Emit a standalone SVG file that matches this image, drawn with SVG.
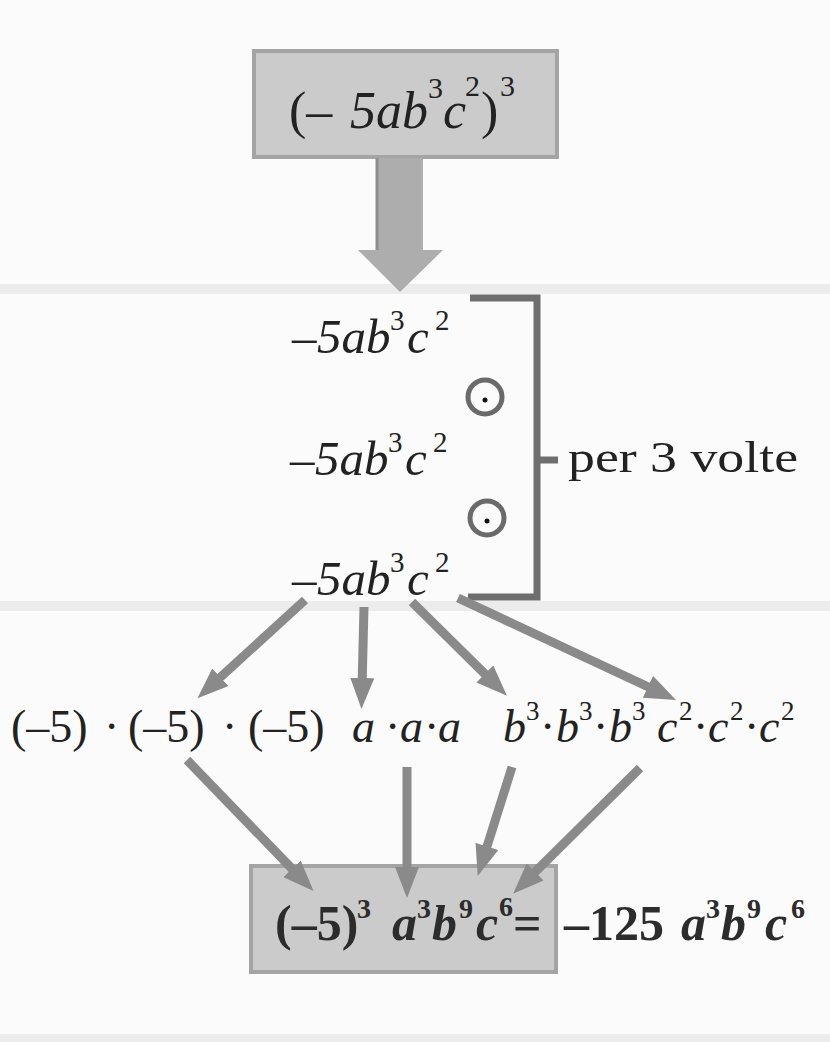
<svg xmlns="http://www.w3.org/2000/svg" width="830" height="1042" viewBox="0 0 830 1042">
<style>
.t{font-family:"Liberation Serif","Times New Roman",serif;fill:#222}
.i{font-style:italic}
.b{font-weight:bold;fill:#2c2c2c}
.box{fill:#cbcbcb;stroke:#a4a4a4;stroke-width:4}
.arr{stroke:#8a8a8a;stroke-width:9;fill:none;marker-end:url(#ah)}
.br{stroke:#6e6e6e;stroke-width:7;fill:none}
.band{fill:#ececec}
</style>
<defs>
<marker id="ah" markerUnits="userSpaceOnUse" markerWidth="32" markerHeight="24" refX="10" refY="12" orient="auto" viewBox="0 0 32 24">
<path d="M0,0 L31,12 L0,24 Z" fill="#8a8a8a"/>
</marker>
</defs>
<rect width="830" height="1042" fill="#fbfbfb"/>
<rect class="band" x="0" y="284" width="830" height="10"/>
<rect class="band" x="0" y="601" width="830" height="10"/>
<rect class="band" x="0" y="1034" width="830" height="8"/>

<g id="top">
<rect class="box" x="254" y="51" width="303" height="106"/>
<text class="t" y="128" font-size="52"><tspan x="289">(–</tspan><tspan x="350" class="i">5ab</tspan><tspan x="428" dy="-30" font-size="30">3</tspan><tspan x="443" dy="30" class="i">c</tspan><tspan x="465" dy="-32" font-size="30">2</tspan><tspan x="481" dy="32">)</tspan><tspan x="500" dy="-32" font-size="30">3</tspan></text>
</g>

<g id="bigarrow">
<path d="M377,158 L423,158 L423,250 L443,250 L400,292 L358,250 L377,250 Z" fill="#adadad"/>
<path d="M377,158 L377,250" stroke="#8d8d8d" stroke-width="3"/>
</g>

<g id="factor1">
<text class="t" y="353" font-size="49"><tspan x="292">–</tspan><tspan x="317" class="i">5ab</tspan><tspan x="390" dy="-23" font-size="29">3</tspan><tspan x="407" dy="23" class="i">c</tspan><tspan x="435" dy="-23" font-size="29">2</tspan></text>
</g>
<g id="dot1">
<circle cx="485" cy="397" r="17" fill="none" stroke="#6a6a6a" stroke-width="5"/>
<circle cx="485" cy="400" r="2.5" fill="#111"/>
</g>
<g id="factor2">
<text class="t" y="475" font-size="49"><tspan x="290">–</tspan><tspan x="315" class="i">5ab</tspan><tspan x="388" dy="-23" font-size="29">3</tspan><tspan x="405" dy="23" class="i">c</tspan><tspan x="433" dy="-23" font-size="29">2</tspan></text>
</g>
<g id="dot2">
<circle cx="487" cy="518" r="17" fill="none" stroke="#6a6a6a" stroke-width="5"/>
<circle cx="487" cy="521" r="2.5" fill="#111"/>
</g>
<g id="factor3">
<text class="t" y="595" font-size="49"><tspan x="292">–</tspan><tspan x="317" class="i">5ab</tspan><tspan x="390" dy="-23" font-size="29">3</tspan><tspan x="407" dy="23" class="i">c</tspan><tspan x="435" dy="-23" font-size="29">2</tspan></text>
</g>

<g id="bracket">
<path class="br" d="M470,298 L537,298 L537,597 L468,597"/>
<path class="br" d="M537,460 L558,460"/>
<text class="t" x="568" y="472" font-size="45" textLength="230" lengthAdjust="spacingAndGlyphs">per 3 volte</text>
</g>

<g id="expansion">
<text class="t" y="742" font-size="46"><tspan x="11">(–5)</tspan><tspan x="104">·</tspan><tspan x="128">(–5)</tspan><tspan x="222">·</tspan><tspan x="248">(–5)</tspan></text>
<text class="t i" y="742" font-size="46"><tspan x="352">a</tspan><tspan x="385" font-style="normal">·</tspan><tspan x="400">a</tspan><tspan x="424" font-style="normal">·</tspan><tspan x="438">a</tspan></text>
<text class="t i" y="742" font-size="46"><tspan x="503">b</tspan><tspan x="526" dy="-22" font-size="27" font-style="normal">3</tspan><tspan x="540" dy="22" font-style="normal">·</tspan><tspan x="556">b</tspan><tspan x="579" dy="-22" font-size="27" font-style="normal">3</tspan><tspan x="593" dy="22" font-style="normal">·</tspan><tspan x="609">b</tspan><tspan x="632" dy="-22" font-size="27" font-style="normal">3</tspan></text>
<text class="t i" y="742" font-size="46"><tspan x="657">c</tspan><tspan x="679" dy="-22" font-size="27" font-style="normal">2</tspan><tspan x="693" dy="22" font-style="normal">·</tspan><tspan x="708">c</tspan><tspan x="730" dy="-22" font-size="27" font-style="normal">2</tspan><tspan x="744" dy="22" font-style="normal">·</tspan><tspan x="759">c</tspan><tspan x="781" dy="-22" font-size="27" font-style="normal">2</tspan></text>
</g>

<g id="result">
<rect class="box" x="251" y="866" width="305" height="106"/>
<text class="t b" y="940" font-size="50"><tspan x="275">(–5)</tspan><tspan x="357" dy="-22" font-size="28">3</tspan><tspan x="392" dy="22" class="i">a</tspan><tspan x="417" dy="-22" font-size="28">3</tspan><tspan x="432" dy="22" class="i">b</tspan><tspan x="459" dy="-22" font-size="28">9</tspan><tspan x="476" dy="22" class="i">c</tspan><tspan x="499" dy="-24" font-size="28">6</tspan><tspan x="513" dy="24">=</tspan></text>
</g>

<g id="final">
<text class="t b" y="940" font-size="50"><tspan x="564">–125</tspan><tspan x="681" class="i">a</tspan><tspan x="706" dy="-22" font-size="28">3</tspan><tspan x="721" dy="22" class="i">b</tspan><tspan x="747" dy="-22" font-size="28">9</tspan><tspan x="765" dy="22" class="i">c</tspan><tspan x="791" dy="-22" font-size="28">6</tspan></text>
</g>

<g id="connectors">
<line class="arr" x1="305" y1="600" x2="213" y2="684"/>
<line class="arr" x1="364" y1="607" x2="362" y2="688"/>
<line class="arr" x1="412" y1="602" x2="492" y2="681"/>
<line class="arr" x1="458" y1="598" x2="657" y2="691"/>
<line class="arr" x1="187" y1="760" x2="299" y2="876"/>
<line class="arr" x1="407" y1="767" x2="407" y2="877"/>
<line class="arr" x1="512" y1="767" x2="484" y2="856"/>
<line class="arr" x1="640" y1="768" x2="528" y2="879"/>
</g>
</svg>
